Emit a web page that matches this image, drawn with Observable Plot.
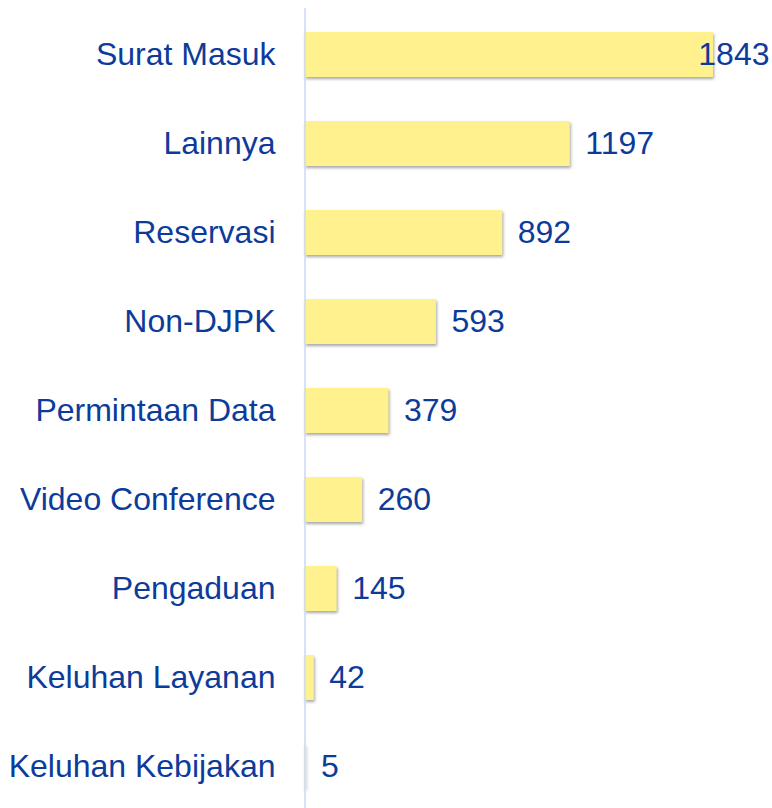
<!DOCTYPE html>
<html>
<head>
<meta charset="utf-8">
<script src="https://cdn.jsdelivr.net/npm/d3@7"></script>
<script src="https://cdn.jsdelivr.net/npm/@observablehq/plot@0.6"></script>
<style>
  html, body { margin: 0; padding: 0; background: #fff; }
  #chart { width: 772px; height: 808px; }
</style>
</head>
<body>
<div id="chart"></div>
<script>
const categories = ["Surat Masuk", "Lainnya", "Reservasi", "Non-DJPK", "Permintaan Data", "Video Conference", "Pengaduan", "Keluhan Layanan", "Keluhan Kebijakan"];
const values = [1843, 1197, 892, 593, 379, 260, 145, 42, 5];

const data = categories.map((c, i) => ({category: c, value: values[i]}));
const maxVal = d3.max(values);

const textColor = "#0D3B9A";
const barColor = "#FFF18D";

const chart = Plot.plot({
  width: 772,
  height: 808,
  marginLeft: 304,
  marginRight: 3,
  marginTop: 8,
  marginBottom: 0,
  style: {fontFamily: "'Liberation Sans', Arial, sans-serif", color: textColor, background: "#fff"},
  x: {domain: [0, maxVal], range: [304.5, 713], axis: null},
  y: {domain: categories, range: [10.5, 809], paddingInner: 0.5, paddingOuter: 0.22, label: null},
  marks: [
    Plot.barX(data, {
      x: "value",
      y: "category",
      fill: barColor,
      imageFilter: "drop-shadow(1.5px 2px 1.5px rgba(0,0,0,0.35))"
    }),
    Plot.ruleX([0], {stroke: "#C9DAF5", strokeWidth: 1.5}),
    Plot.axisY({tickSize: 0, tickPadding: 29, fontSize: 32, fill: textColor, label: null}),
    Plot.text(data.filter(d => d.value !== maxVal), {
      x: "value",
      y: "category",
      text: d => String(d.value),
      textAnchor: "start",
      dx: 15,
      fontSize: 32,
      fill: textColor
    }),
    Plot.text(data.filter(d => d.value === maxVal), {
      frameAnchor: "right",
      y: "category",
      text: d => String(d.value),
      textAnchor: "end",
      fontSize: 32,
      fill: textColor
    })
  ]
});
document.getElementById("chart").appendChild(chart);
</script>
</body>
</html>
